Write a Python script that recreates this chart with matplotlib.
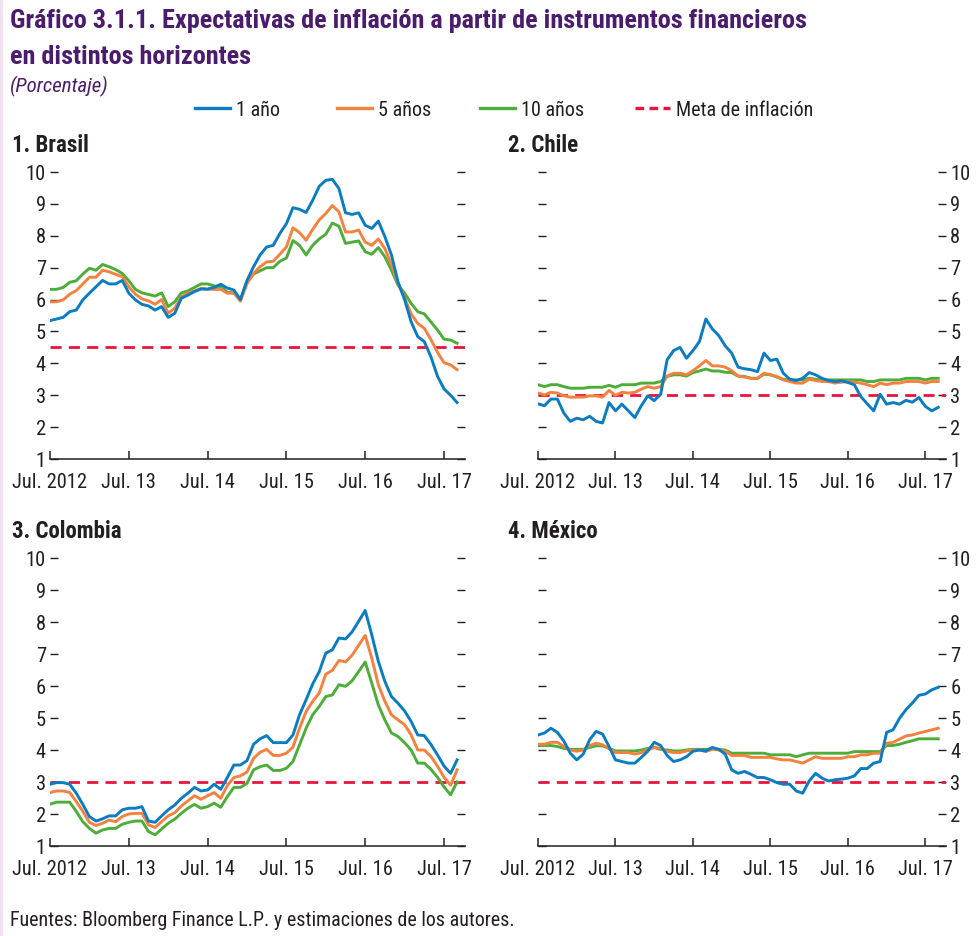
import numpy as np
import matplotlib
matplotlib.use("Agg")
import matplotlib.pyplot as plt
from matplotlib.lines import Line2D

plt.rcParams["font.family"] = ["Roboto Condensed", "Archivo Narrow", "PT Sans Narrow",
                               "Liberation Sans Narrow", "Roboto", "DejaVu Sans"]

# monthly, Jul 2012 - Sep 2017
months = np.arange(63)
tick_pos = [0, 12, 24, 36, 48, 60]
tick_lab = ["Jul. 2012", "Jul. 13", "Jul. 14", "Jul. 15", "Jul. 16", "Jul. 17"]

bra_1 = [5.34, 5.39, 5.44, 5.62, 5.67, 5.99, 6.2, 6.4, 6.6, 6.49,
         6.49, 6.6, 6.2, 5.99, 5.85, 5.8, 5.67, 5.78, 5.44, 5.57,
         6.04, 6.14, 6.25, 6.33, 6.33, 6.38, 6.48, 6.36, 6.3, 6.0,
         6.6, 7.03, 7.4, 7.65, 7.7, 8.07, 8.38, 8.88, 8.83, 8.73,
         9.11, 9.55, 9.74, 9.77, 9.48, 8.72, 8.67, 8.72, 8.33, 8.23,
         8.46, 7.97, 7.4, 6.55, 6.0, 5.3, 4.84, 4.68, 4.21, 3.6,
         3.2, 3.0, 2.77]
bra_5 = [5.93, 5.93, 5.99, 6.17, 6.28, 6.49, 6.7, 6.7, 6.92, 6.87,
         6.79, 6.72, 6.4, 6.17, 6.02, 5.96, 5.85, 6.0, 5.57, 5.73,
         6.09, 6.2, 6.27, 6.35, 6.32, 6.32, 6.32, 6.2, 6.2, 5.95,
         6.5, 6.82, 7.03, 7.18, 7.2, 7.42, 7.65, 8.25, 8.1, 7.86,
         8.2, 8.5, 8.7, 8.95, 8.75, 8.12, 8.12, 8.18, 7.8, 7.7,
         7.9, 7.6, 7.1, 6.5, 6.05, 5.55, 5.25, 5.1, 4.75, 4.35,
         4.02, 3.95, 3.8]
bra_10 = [6.32, 6.32, 6.38, 6.54, 6.59, 6.8, 6.98, 6.92, 7.1, 7.03,
          6.94, 6.82, 6.59, 6.32, 6.21, 6.16, 6.11, 6.21, 5.78, 5.93,
          6.21, 6.27, 6.38, 6.49, 6.49, 6.43, 6.4, 6.23, 6.21, 6.0,
          6.55, 6.8, 6.9, 7.0, 7.0, 7.2, 7.3, 7.85, 7.7, 7.4,
          7.7, 7.9, 8.05, 8.4, 8.3, 7.76, 7.8, 7.84, 7.5, 7.42,
          7.63, 7.34, 6.92, 6.45, 6.2, 5.88, 5.62, 5.55, 5.3, 5.05,
          4.76, 4.73, 4.63]

chl_1 = [2.73, 2.67, 2.88, 2.88, 2.44, 2.18, 2.28, 2.23, 2.34, 2.18,
         2.13, 2.77, 2.51, 2.72, 2.51, 2.3, 2.67, 2.98, 2.83, 3.03,
         4.11, 4.4, 4.5, 4.16, 4.4, 4.68, 5.39, 5.08, 4.87, 4.55,
         4.32, 3.88, 3.83, 3.8, 3.74, 4.32, 4.09, 4.13, 3.69, 3.5,
         3.46, 3.53, 3.71, 3.64, 3.53, 3.46, 3.43, 3.45, 3.4, 3.33,
         2.96, 2.73, 2.51, 3.03, 2.72, 2.77, 2.72, 2.84, 2.78, 2.93,
         2.65, 2.51, 2.62]
chl_5 = [3.07, 3.01, 3.09, 3.07, 2.98, 2.94, 2.94, 2.94, 2.98, 2.98,
         2.94, 3.15, 3.0, 3.09, 3.07, 3.09, 3.19, 3.27, 3.22, 3.27,
         3.6, 3.69, 3.69, 3.64, 3.77, 3.92, 4.09, 3.92, 3.92, 3.88,
         3.77, 3.6, 3.57, 3.53, 3.53, 3.69, 3.64, 3.59, 3.48, 3.43,
         3.38, 3.38, 3.5, 3.46, 3.43, 3.43, 3.38, 3.41, 3.43, 3.41,
         3.38, 3.33, 3.27, 3.38, 3.33, 3.38, 3.38, 3.43, 3.43, 3.43,
         3.38, 3.43, 3.43]
chl_10 = [3.33, 3.27, 3.33, 3.33, 3.27, 3.22, 3.22, 3.22, 3.25, 3.25,
          3.25, 3.31, 3.25, 3.33, 3.33, 3.33, 3.38, 3.38, 3.38, 3.43,
          3.59, 3.64, 3.64, 3.6, 3.71, 3.76, 3.82, 3.76, 3.76, 3.72,
          3.71, 3.6, 3.59, 3.53, 3.53, 3.66, 3.64, 3.57, 3.5, 3.48,
          3.48, 3.48, 3.53, 3.5, 3.48, 3.48, 3.48, 3.48, 3.48, 3.48,
          3.48, 3.43, 3.43, 3.48, 3.48, 3.48, 3.48, 3.53, 3.53, 3.53,
          3.48, 3.53, 3.53]

col_1 = [2.93, 2.98, 2.98, 2.93, 2.65, 2.3, 1.92, 1.78, 1.85, 1.94,
         1.94, 2.13, 2.18, 2.18, 2.23, 1.78, 1.74, 1.94, 2.13, 2.28,
         2.49, 2.65, 2.83, 2.72, 2.75, 2.93, 2.77, 3.14, 3.53, 3.53,
         3.67, 4.18, 4.35, 4.45, 4.23, 4.23, 4.23, 4.47, 5.1, 5.57,
         6.06, 6.45, 7.03, 7.13, 7.5, 7.47, 7.69, 8.02, 8.36, 7.6,
         6.77, 6.14, 5.67, 5.46, 5.22, 4.89, 4.47, 4.45, 4.18, 3.85,
         3.5, 3.27, 3.69]
col_5 = [2.67, 2.72, 2.72, 2.67, 2.39, 2.08, 1.74, 1.64, 1.71, 1.81,
         1.76, 1.92, 2.0, 2.02, 2.02, 1.66, 1.58, 1.76, 1.94, 2.04,
         2.25, 2.41, 2.57, 2.46, 2.57, 2.67, 2.49, 2.89, 3.14, 3.19,
         3.31, 3.74, 3.93, 4.02, 3.83, 3.83, 3.9, 4.09, 4.68, 5.2,
         5.52, 5.78, 6.37, 6.49, 6.8, 6.75, 6.96, 7.27, 7.58, 6.87,
         6.04, 5.52, 5.1, 4.94, 4.79, 4.47, 4.0, 4.0, 3.8, 3.5,
         3.15, 2.9, 3.38]
col_10 = [2.31, 2.37, 2.37, 2.37, 2.08, 1.76, 1.55, 1.4, 1.5, 1.55,
          1.55, 1.68, 1.74, 1.78, 1.78, 1.45, 1.35, 1.53, 1.71, 1.84,
          2.02, 2.18, 2.3, 2.18, 2.23, 2.34, 2.21, 2.54, 2.83, 2.83,
          2.96, 3.38, 3.48, 3.53, 3.36, 3.36, 3.43, 3.64, 4.16, 4.68,
          5.1, 5.36, 5.67, 5.72, 6.04, 5.99, 6.16, 6.45, 6.75, 6.09,
          5.41, 4.94, 4.53, 4.42, 4.23, 4.0, 3.59, 3.59, 3.4, 3.15,
          2.85, 2.6, 3.0]

mex_1 = [4.47, 4.53, 4.68, 4.55, 4.28, 3.9, 3.69, 3.87, 4.32, 4.58,
         4.5, 4.11, 3.69, 3.64, 3.59, 3.59, 3.77, 3.96, 4.24, 4.14,
         3.83, 3.64, 3.69, 3.79, 3.96, 4.0, 3.97, 4.08, 4.02, 3.87,
         3.38, 3.27, 3.33, 3.24, 3.14, 3.14, 3.07, 2.98, 2.93, 2.93,
         2.72, 2.65, 3.03, 3.27, 3.12, 3.03, 3.07, 3.09, 3.12, 3.19,
         3.42, 3.42, 3.59, 3.64, 4.55, 4.63, 4.99, 5.26, 5.47, 5.71,
         5.75, 5.88, 5.96]
mex_5 = [4.18, 4.18, 4.24, 4.24, 4.11, 4.0, 3.96, 4.0, 4.14, 4.21,
         4.16, 4.05, 3.92, 3.92, 3.92, 3.87, 3.92, 4.0, 4.08, 4.05,
         3.96, 3.92, 3.92, 3.97, 4.0, 4.0, 3.95, 4.02, 4.0, 3.96,
         3.83, 3.83, 3.83, 3.77, 3.77, 3.77, 3.77, 3.72, 3.69, 3.69,
         3.64, 3.59, 3.69, 3.79, 3.74, 3.74, 3.74, 3.74, 3.79, 3.79,
         3.85, 3.85, 3.9, 3.9, 4.21, 4.24, 4.34, 4.44, 4.47, 4.53,
         4.58, 4.63, 4.68]
mex_10 = [4.14, 4.14, 4.14, 4.11, 4.05, 4.02, 4.02, 4.02, 4.08, 4.13,
          4.13, 4.05, 3.97, 3.97, 3.97, 3.97, 4.0, 4.05, 4.08, 4.02,
          4.0, 3.97, 3.97, 4.0, 4.02, 4.02, 4.02, 4.02, 4.02, 4.0,
          3.9, 3.9, 3.9, 3.9, 3.9, 3.9, 3.85, 3.85, 3.85, 3.85,
          3.79, 3.85, 3.9, 3.9, 3.9, 3.9, 3.9, 3.9, 3.9, 3.95,
          3.95, 3.95, 3.95, 3.95, 4.14, 4.14, 4.18, 4.24, 4.29, 4.35,
          4.35, 4.35, 4.35]

panels = ["1. Brasil", "2. Chile", "3. Colombia", "4. México"]
metas = [4.5, 3, 3, 3]
series = [(bra_1, bra_5, bra_10), (chl_1, chl_5, chl_10),
          (col_1, col_5, col_10), (mex_1, mex_5, mex_10)]
labels_right = [False, True, False, True]
leg_labels = ["1 año", "5 años", "10 años", "Meta de inflación"]

C_BLUE = "#0a7cc1"
C_ORANGE = "#f5813f"
C_GREEN = "#4cae38"
C_RED = "#e8143c"
PURPLE = "#4b1b6e"
INK = "#231f20"

W, H = 976, 936
fig = plt.figure(figsize=(W / 100, H / 100), dpi=100)

# pixel boxes: left, top(10), right, bottom(1)
boxes = [(50, 172, 465, 459), (538, 172, 946, 459),
         (50, 558, 465, 846), (538, 558, 946, 846)]
title_pos = [(12, 145), (508, 145), (12, 531), (508, 531)]

for k in range(4):
    l, t, r, b = boxes[k]
    ax = fig.add_axes([l / W, (H - b) / H, (r - l) / W, (b - t) / H])
    y1, y5, y10 = series[k]
    ax.axhline(metas[k], color=C_RED, lw=2.0, ls=(0, (4, 2.6)), zorder=2)
    ax.plot(months, y10, color=C_GREEN, lw=2.1, zorder=3)
    ax.plot(months, y5, color=C_ORANGE, lw=2.1, zorder=4)
    ax.plot(months, y1, color=C_BLUE, lw=2.1, zorder=5)
    ax.set_xlim(0, 63.2)
    ax.set_ylim(1, 10)
    for s in ["top", "left", "right"]:
        ax.spines[s].set_visible(False)
    ax.spines["bottom"].set_linewidth(1.1)
    ax.spines["bottom"].set_color(INK)
    ax.set_xticks(tick_pos)
    ax.set_xticklabels(tick_lab)
    ax.tick_params(axis="x", direction="in", length=6, width=1.1,
                   labelsize=14.8, pad=10, colors=INK)
    ax.set_yticks(range(1, 11))
    ax.tick_params(axis="y", direction="in", length=6, width=1.0,
                   labelsize=14.8, pad=3, colors=INK,
                   left=True, right=True,
                   labelleft=not labels_right[k], labelright=labels_right[k])
    ax.patch.set_alpha(0)
    tx, ty = title_pos[k]
    fig.text(tx / W, 1 - ty / H, panels[k], fontsize=16.5, fontweight="bold",
             color=INK, va="center", ha="left")

fig.text(10 / W, 1 - 21 / H,
         "Gráfico 3.1.1. Expectativas de inflación a partir de instrumentos financieros",
         fontsize=18.9, fontweight="bold", color=PURPLE, va="center", ha="left")
fig.text(10 / W, 1 - 57 / H, "en distintos horizontes",
         fontsize=18.9, fontweight="bold", color=PURPLE, va="center", ha="left")
fig.text(10 / W, 1 - 86 / H, "(Porcentaje)", fontsize=15, style="italic",
         color=PURPLE, va="center", ha="left")

handles = [Line2D([], [], color=C_BLUE, lw=2.4),
           Line2D([], [], color=C_ORANGE, lw=2.4),
           Line2D([], [], color=C_GREEN, lw=2.4),
           Line2D([], [], color=C_RED, lw=2.4, ls=(0, (2.6, 1.6)))]
leg_x = [195, 337, 480, 635]
for h, lab, lx in zip(handles, leg_labels, leg_x):
    fig.legend([h], [lab], loc="center left",
               bbox_to_anchor=(lx / W, 1 - 110 / H), frameon=False,
               fontsize=14.5, handlelength=1.75, handletextpad=0.3,
               borderpad=0, borderaxespad=0, labelcolor=INK)

fig.text(10 / W, 1 - 920 / H,
         "Fuentes: Bloomberg Finance L.P. y estimaciones de los autores.",
         fontsize=14.4, color=INK, va="center", ha="left")

fig.add_artist(plt.Line2D([0.001, 0.001], [0, 1], color="#eee2ef", lw=3,
                          transform=fig.transFigure))

fig.savefig("out.png", dpi=100)
